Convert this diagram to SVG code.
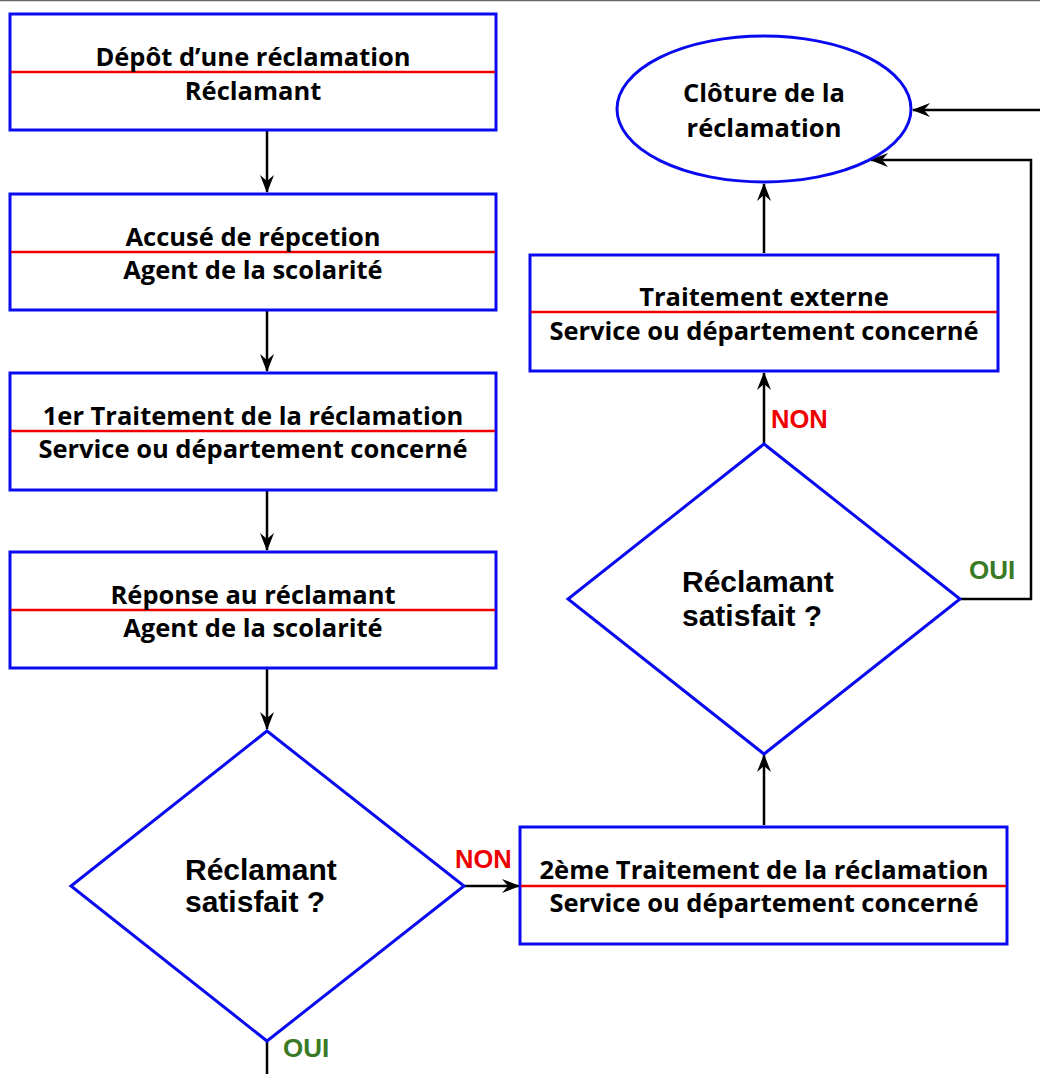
<svg xmlns="http://www.w3.org/2000/svg" width="1040" height="1074" viewBox="0 0 1040 1074">
<style>
.box{fill:#fff;stroke:#0a0af0;stroke-width:3}
.sep{stroke:#ee0000;stroke-width:2.5}
.bt{font-family:"Open Sans","Liberation Sans",sans-serif;font-weight:bold;font-size:25.5px;fill:#000;text-anchor:middle}
.dt{font-family:"Liberation Sans",Arial,sans-serif;font-weight:bold;font-size:30px;fill:#000}
.con{fill:none;stroke:#000;stroke-width:2.5}
.non{font-family:"Liberation Sans",Arial,sans-serif;font-weight:bold;font-size:25.5px;fill:#ee0000}
.oui{font-family:"Liberation Sans",Arial,sans-serif;font-weight:bold;font-size:26px;fill:#3a7a25}
</style>
<defs>
<marker id="ar" viewBox="0 0 18 14" refX="17" refY="7" markerWidth="18" markerHeight="14" markerUnits="userSpaceOnUse" orient="auto">
<path d="M0,0 L18,7 L0,14 L6,7 z" fill="#000"/>
</marker>
</defs>
<rect x="0" y="0" width="1040" height="1074" fill="#fff"/>
<line x1="0" y1="0.5" x2="1040" y2="0.5" stroke="#666" stroke-width="1.5"/>
<g id="connectors">
<line class="con" x1="267" y1="131" x2="267" y2="192" marker-end="url(#ar)"/>
<line class="con" x1="267" y1="311" x2="267" y2="371" marker-end="url(#ar)"/>
<line class="con" x1="267" y1="491" x2="267" y2="550" marker-end="url(#ar)"/>
<line class="con" x1="267" y1="669" x2="267" y2="729" marker-end="url(#ar)"/>
<line class="con" x1="267" y1="1041" x2="267" y2="1074"/>
<line class="con" x1="464" y1="886" x2="519" y2="886" marker-end="url(#ar)"/>
<line class="con" x1="764" y1="825" x2="764" y2="755" marker-end="url(#ar)"/>
<line class="con" x1="764" y1="444" x2="764" y2="373" marker-end="url(#ar)"/>
<line class="con" x1="764" y1="253" x2="764" y2="184" marker-end="url(#ar)"/>
<polyline class="con" points="960,599 1031,599 1031,160 871,160" marker-end="url(#ar)"/>
<line class="con" x1="1040" y1="110" x2="913" y2="110" marker-end="url(#ar)"/>
<text class="non" x="455" y="868">NON</text>
<text class="non" x="771" y="428">NON</text>
<text class="oui" x="969" y="579">OUI</text>
<text class="oui" x="283" y="1057">OUI</text>
</g>
<g id="n1">
<rect class="box" x="10" y="14" width="486" height="116"/>
<line class="sep" x1="11" y1="72" x2="495" y2="72"/>
<text class="bt" x="253" y="66">Dépôt d’une réclamation</text>
<text class="bt" x="253" y="100">Réclamant</text>
</g>
<g id="n2">
<rect class="box" x="10" y="194" width="486" height="116"/>
<line class="sep" x1="11" y1="252" x2="495" y2="252"/>
<text class="bt" x="253" y="246">Accusé de répcetion</text>
<text class="bt" x="253" y="279">Agent de la scolarité</text>
</g>
<g id="n3">
<rect class="box" x="10" y="373" width="486" height="117"/>
<line class="sep" x1="11" y1="431" x2="495" y2="431"/>
<text class="bt" x="253" y="425">1er Traitement de la réclamation</text>
<text class="bt" x="253" y="458">Service ou département concerné</text>
</g>
<g id="n4">
<rect class="box" x="10" y="552" width="486" height="116"/>
<line class="sep" x1="11" y1="610" x2="495" y2="610"/>
<text class="bt" x="253" y="604">Réponse au réclamant</text>
<text class="bt" x="253" y="637">Agent de la scolarité</text>
</g>
<g id="d1">
<polygon class="box" points="267,731 464,886 267,1041 71,886"/>
<text class="dt" x="185" y="880">Réclamant</text>
<text class="dt" x="185" y="912">satisfait ?</text>
</g>
<g id="n5">
<rect class="box" x="520" y="827" width="487" height="117"/>
<line class="sep" x1="521" y1="886" x2="1006" y2="886"/>
<text class="bt" x="764" y="879">2ème Traitement de la réclamation</text>
<text class="bt" x="764" y="912">Service ou département concerné</text>
</g>
<g id="d2">
<polygon class="box" points="764,444 960,599 764,754 568,599"/>
<text class="dt" x="682" y="592">Réclamant</text>
<text class="dt" x="682" y="626">satisfait ?</text>
</g>
<g id="n6">
<rect class="box" x="530" y="255" width="468" height="116"/>
<line class="sep" x1="531" y1="312" x2="997" y2="312"/>
<text class="bt" x="764" y="306">Traitement externe</text>
<text class="bt" x="764" y="340">Service ou département concerné</text>
</g>
<g id="n7">
<ellipse class="box" cx="764" cy="109" rx="147" ry="73"/>
<text class="bt" x="764" y="102">Clôture de la</text>
<text class="bt" x="764" y="137">réclamation</text>
</g>
</svg>
